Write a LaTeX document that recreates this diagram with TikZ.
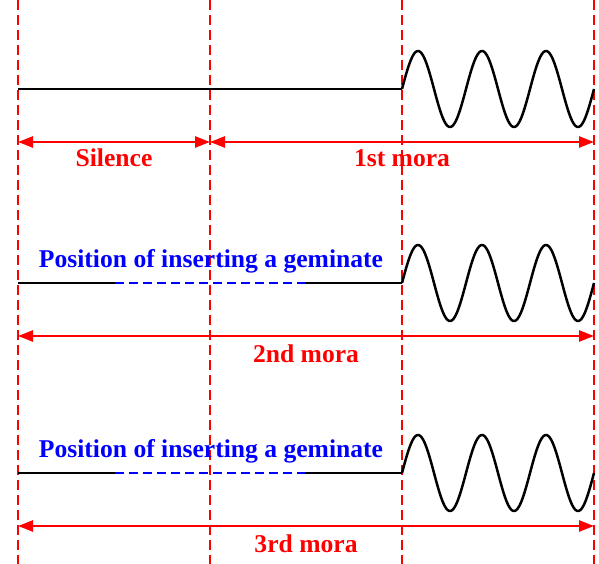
\documentclass[tikz,border=0pt]{standalone}
\usepackage{fontspec}
\setmainfont{Liberation Serif}
\usetikzlibrary{arrows.meta}
\definecolor{myred}{RGB}{255,0,0}
\definecolor{myblue}{RGB}{0,0,255}
\tikzset{
  guide/.style={myred, line width=1.9pt, dash pattern=on 10pt off 5pt},
  span/.style={myred, line width=2.4pt, {Triangle[length=15pt,width=11pt]}-{Triangle[length=15pt,width=11pt]}},
  sig/.style={black, line width=2.5pt, line join=round},
  gem/.style={myblue, line width=2.5pt, dash pattern=on 9pt off 5pt},
  redlbl/.style={text=myred, font=\fontsize{25.6}{30}\selectfont\bfseries, anchor=base, inner sep=0pt},
  bluelbl/.style={text=myblue, font=\fontsize{25.6}{30}\selectfont\bfseries, anchor=base, inner sep=0pt},
}
\begin{document}
\begin{tikzpicture}[x=1pt,y=-1pt]
\useasboundingbox (0,0) rectangle (599,564);
% guide lines
\foreach \gx/\nm in {18/ga,210/gb,402/gc,594/gd}{
  \coordinate (\nm top) at (\gx,0);
  \coordinate (\nm bot) at (\gx,564);
  \draw[guide] (\nm top) -- (\nm bot);
}
% row 1
\coordinate (r1a) at (18,89);
\coordinate (r1c) at (402,89);
\draw[sig] (r1a) -- (r1c);
\draw[sig] plot[domain=0:192, samples=200] ({402+\x}, {89-38*sin(5.625*\x)});
\coordinate (s1a) at (18,142);
\coordinate (s1b) at (210,142);
\coordinate (s1c) at (594,142);
\draw[span] (s1a) -- (s1b);
\draw[span] (s1b) -- (s1c);
\node[redlbl] (silence) at (114,167) {Silence};
\node[redlbl] (mora1) at (402,167) {1st mora};
% row 2
\coordinate (r2a) at (18,283);
\coordinate (r2b) at (115,283);
\coordinate (r2d) at (305,283);
\coordinate (r2c) at (402,283);
\draw[sig] (r2a) -- (r2b);
\draw[gem] (r2b) -- (r2d);
\draw[sig] (r2d) -- (r2c);
\draw[sig] plot[domain=0:192, samples=200] ({402+\x}, {283-38*sin(5.625*\x)});
\node[bluelbl] (pos2) at (211,267) {Position of inserting a geminate};
\coordinate (s2a) at (18,336);
\coordinate (s2c) at (594,336);
\draw[span] (s2a) -- (s2c);
\node[redlbl] (mora2) at (306,362) {2nd mora};
% row 3
\coordinate (r3a) at (18,473);
\coordinate (r3b) at (115,473);
\coordinate (r3d) at (305,473);
\coordinate (r3c) at (402,473);
\draw[sig] (r3a) -- (r3b);
\draw[gem] (r3b) -- (r3d);
\draw[sig] (r3d) -- (r3c);
\draw[sig] plot[domain=0:192, samples=200] ({402+\x}, {473-38*sin(5.625*\x)});
\node[bluelbl] (pos3) at (211,457) {Position of inserting a geminate};
\coordinate (s3a) at (18,526);
\coordinate (s3c) at (594,526);
\draw[span] (s3a) -- (s3c);
\node[redlbl] (mora3) at (306,552) {3rd mora};
\end{tikzpicture}
\end{document}
